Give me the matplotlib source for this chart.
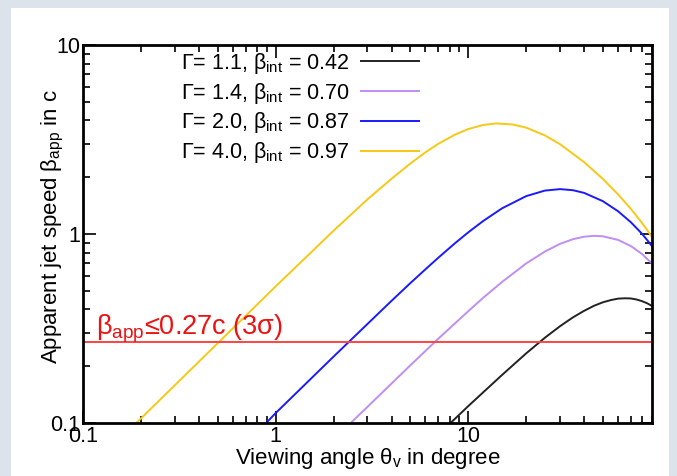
import matplotlib.pyplot as plt
from matplotlib.patches import Rectangle
from matplotlib.ticker import LogLocator, FixedLocator, FuncFormatter, NullFormatter

plt.rcParams["font.family"] = ["Liberation Sans", "DejaVu Sans"]
plt.rcParams["mathtext.fontset"] = "custom"
plt.rcParams["mathtext.rm"] = "Liberation Sans"
plt.rcParams["mathtext.it"] = "Liberation Sans"

# values (viewing angle in degree -> beta_app in c)
theta_g11 = [8, 10, 15, 20, 25, 30, 35, 40, 45, 50, 55, 60, 65, 70, 75, 80, 85, 90]
beta_g11 = [0.099, 0.123, 0.180, 0.234, 0.283, 0.326, 0.363, 0.393, 0.418, 0.436,
            0.448, 0.456, 0.458, 0.457, 0.451, 0.442, 0.431, 0.417]

theta_g14 = [2.5, 3, 5, 7, 10, 12, 15, 20, 25, 30, 35, 40, 45, 50, 60, 70, 80, 90]
beta_g14 = [0.102, 0.122, 0.202, 0.280, 0.391, 0.462, 0.559, 0.700, 0.809, 0.889,
            0.941, 0.970, 0.980, 0.975, 0.933, 0.865, 0.785, 0.700]

theta_g20 = [0.9, 1, 2, 3, 4, 5, 6, 7, 8.5, 10, 12, 15, 20, 25, 30, 35, 40, 50, 60, 70, 80, 90]
beta_g20 = [0.101, 0.113, 0.225, 0.335, 0.444, 0.550, 0.652, 0.751, 0.892, 1.022, 1.177,
            1.371, 1.590, 1.701, 1.732, 1.709, 1.654, 1.496, 1.323, 1.156, 1.004, 0.866]

theta_g40 = [0.1, 1, 2, 3, 4, 5, 6, 7, 8.5, 10, 12, 14, 17, 20, 25, 30, 40, 50, 60, 70, 80, 90]
beta_g40 = [0.053, 0.529, 1.043, 1.529, 1.965, 2.364, 2.713, 3.009, 3.356, 3.599, 3.787, 3.855,
            3.809, 3.663, 3.334, 2.994, 2.407, 1.963, 1.625, 1.360, 1.146, 0.968]

labels = [r"$\Gamma$= 1.1, $\beta_{\rm int}$ = 0.42",
          r"$\Gamma$= 1.4, $\beta_{\rm int}$ = 0.70",
          r"$\Gamma$= 2.0, $\beta_{\rm int}$ = 0.87",
          r"$\Gamma$= 4.0, $\beta_{\rm int}$ = 0.97"]
colors = ["#222222", "#bf8ef2", "#1a1aff", "#f7c815"]

beta_limit = 0.27

fig = plt.figure(figsize=(6.77, 4.76), dpi=100, facecolor="#dde3ea")
fig.patches.append(Rectangle((11 / 677, 0), 658 / 677, 468 / 476,
                             transform=fig.transFigure, facecolor="white",
                             edgecolor="none", zorder=-1))
ax = fig.add_axes([0.1226, 0.111, 0.8404, 0.794])
ax.set_zorder(2)

series = [(theta_g11, beta_g11), (theta_g14, beta_g14), (theta_g20, beta_g20), (theta_g40, beta_g40)]
for (x, y), lab, c in zip(series, labels, colors):
    ax.plot(x, y, color=c, lw=1.4, label=lab)

ax.axhline(beta_limit, color="#ff4444", lw=1.4)
ax.text(0.117, 0.295, r"$\beta_{\rm app}$≤0.27c (3σ)", color="#ee1111", fontsize=19.5)

ax.set_xscale("log")
ax.set_yscale("log")
ax.set_xlim(0.1, 90)
ax.set_ylim(0.1, 10)

fmt = FuncFormatter(lambda v, p: "%g" % v)
ax.xaxis.set_major_locator(FixedLocator([0.1, 1, 10]))
ax.yaxis.set_major_locator(FixedLocator([0.1, 1, 10]))
ax.xaxis.set_major_formatter(fmt)
ax.yaxis.set_major_formatter(fmt)
ax.xaxis.set_minor_locator(LogLocator(base=10, subs=range(2, 10)))
ax.yaxis.set_minor_locator(LogLocator(base=10, subs=range(2, 10)))
ax.xaxis.set_minor_formatter(NullFormatter())
ax.yaxis.set_minor_formatter(NullFormatter())
ax.tick_params(which="both", direction="in", top=True, right=True, width=1.2, labelsize=15.5)
ax.tick_params(which="major", length=9, pad=2)
ax.tick_params(which="minor", length=5)
for s in ax.spines.values():
    s.set_linewidth(2)

ax.set_xlabel(r"Viewing angle $\theta_{\rm v}$ in degree", fontsize=16, labelpad=-1)
ax.set_ylabel(r"Apparent jet speed $\beta_{\rm app}$ in c", fontsize=16)
ax.yaxis.set_label_coords(-0.03, 0.52)

ax.legend(loc="upper right", bbox_to_anchor=(0.59, 0.985), frameon=False, markerfirst=False,
          fontsize=15.5, handlelength=2.7, labelspacing=0.22, handletextpad=0.5,
          borderpad=0, borderaxespad=0)

plt.savefig("out.png", dpi=100, facecolor=fig.get_facecolor())
